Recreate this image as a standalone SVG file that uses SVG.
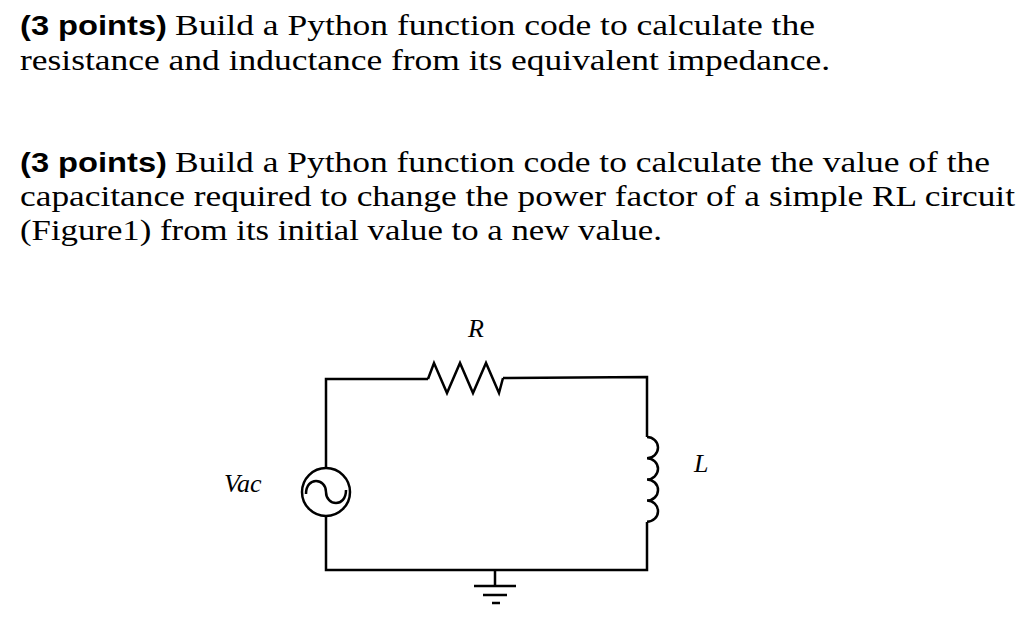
<svg xmlns="http://www.w3.org/2000/svg" width="1024" height="644" viewBox="0 0 1024 644">
<style>
.t{font-family:"Liberation Serif",serif;font-size:29px;fill:#000}
.b{font-family:"Liberation Sans",sans-serif;font-weight:bold;font-size:27px;fill:#000}
.m{font-family:"Liberation Serif",serif;font-style:italic;font-size:26px;fill:#000}
.w{fill:none;stroke:#000;stroke-width:2.5}
</style>
<rect width="1024" height="644" fill="#fff"/>
<g id="text">
<text class="b" x="20" y="35" textLength="147" lengthAdjust="spacingAndGlyphs">(3 points)</text>
<text class="t" x="175" y="35" textLength="640" lengthAdjust="spacingAndGlyphs">Build a Python function code to calculate the</text>
<text class="t" x="20" y="70" textLength="810" lengthAdjust="spacingAndGlyphs">resistance and inductance from its equivalent impedance.</text>
<text class="b" x="20" y="172" textLength="147" lengthAdjust="spacingAndGlyphs">(3 points)</text>
<text class="t" x="175" y="172" textLength="815" lengthAdjust="spacingAndGlyphs">Build a Python function code to calculate the value of the</text>
<text class="t" x="20" y="206" textLength="995" lengthAdjust="spacingAndGlyphs">capacitance required to change the power factor of a simple RL circuit</text>
<text class="t" x="20" y="240" textLength="642" lengthAdjust="spacingAndGlyphs">(Figure1) from its initial value to a new value.</text>
</g>
<g id="connectors">
<path class="w" d="M326,468 V379 H428"/>
<path class="w" d="M503,378 L647,377 V437"/>
<path class="w" d="M647,522 V570 H326 V516"/>
</g>
<g id="resistor">
<path class="w" d="M428,379 L434,363 L447,393 L460,363 L473,393 L486,363 L499,393 L503,378"/>
<text class="m" x="468" y="337">R</text>
</g>
<g id="inductor">
<path class="w" d="M647,437 a11,10.6 0 0 1 0,21.2 a11,10.6 0 0 1 0,21.2 a11,10.6 0 0 1 0,21.2 a11,10.6 0 0 1 0,21.2"/>
<text class="m" x="694" y="472">L</text>
</g>
<g id="source">
<circle class="w" cx="326" cy="492" r="24"/>
<path class="w" d="M306,494 C306,476 326,478 326,492 C326,506 346,508 346,490"/>
<text class="m" x="224" y="492">Vac</text>
</g>
<g id="ground">
<path class="w" d="M495,570 V586 M474,586 H516 M483,595 H507 M492,603 H500"/>
</g>
</svg>
